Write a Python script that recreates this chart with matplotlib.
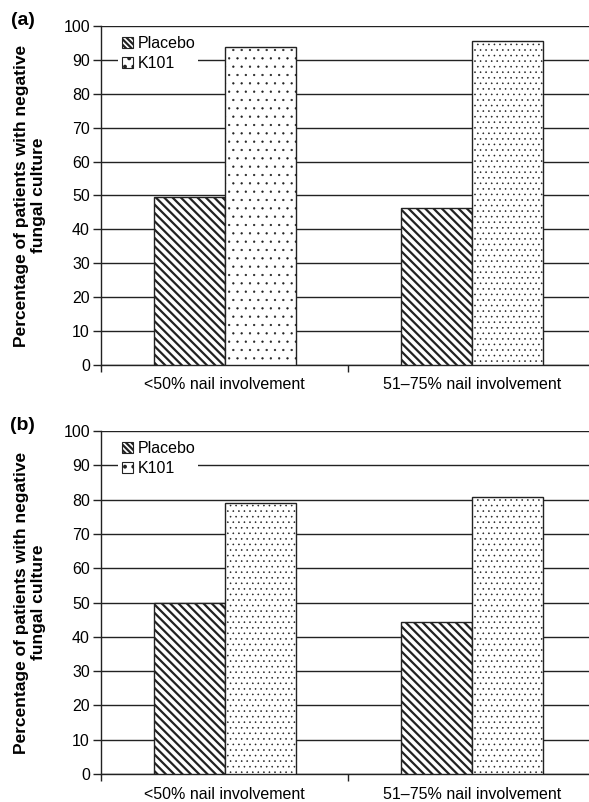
import numpy as np
import matplotlib
matplotlib.use('Agg')
import matplotlib.pyplot as plt
import matplotlib.patches as mpatches
from matplotlib.ticker import FixedLocator

plt.rcParams['font.family'] = ['Liberation Sans', 'DejaVu Sans']
plt.rcParams['hatch.linewidth'] = 1.6

categories = ['<50% nail involvement', '51\u201375% nail involvement']
series = ['Placebo', 'K101']
placebo_a = [49.5, 46.3]
k101_a = [93.7, 95.7]
placebo_b = [50.0, 44.2]
k101_b = [79.0, 80.8]
y_ticks = list(range(0, 101, 10))
panel_labels = ['(a)', '(b)']
ylabel = 'Percentage of patients with negative\nfungal culture'

STRIPES = '\\' * 4
EDGE = '#222222'


def thin_hatch(p, lw):
    if hasattr(p, 'set_hatch_linewidth'):
        p.set_hatch_linewidth(lw)


def panel(ax, placebo, k101, dot_hatches, tag, tag_y):
    x = np.arange(len(categories))
    w = 0.287
    ax.bar(x - w / 2, placebo, w, color='white', edgecolor=EDGE,
           hatch=STRIPES, linewidth=1.0, zorder=3)
    bars = ax.bar(x + w / 2, k101, w, color='white', edgecolor=EDGE,
                  linewidth=1.0, zorder=3)
    for b, h in zip(bars, dot_hatches):
        b.set_hatch(h)
        b.set_edgecolor(EDGE)
        thin_hatch(b, 0.4)

    ax.set_xlim(-0.5, 1.5)
    ax.set_ylim(0, 100)
    ax.set_yticks(y_ticks)
    ax.set_xticks(x)
    ax.set_xticklabels(categories, fontsize=11.5)
    ax.xaxis.set_minor_locator(FixedLocator([-0.5, 0.5, 1.5]))
    ax.tick_params(axis='x', which='major', length=0, pad=9)
    ax.tick_params(axis='x', which='minor', length=5, width=1, color=EDGE)
    ax.tick_params(axis='y', length=6, width=1, color=EDGE, labelsize=11.5, pad=2)
    ax.grid(axis='y', color=EDGE, linewidth=1.0, zorder=0)
    ax.set_axisbelow(True)
    for s in ['top', 'right']:
        ax.spines[s].set_visible(False)
    for s in ['left', 'bottom']:
        ax.spines[s].set_color(EDGE)
        ax.spines[s].set_linewidth(1.0)

    ax.set_ylabel(ylabel, fontsize=12.5, fontweight='bold', linespacing=1.1)
    ax.yaxis.set_label_coords(-0.112, 0.5)

    h1 = mpatches.Patch(facecolor='white', edgecolor=EDGE, hatch='\\' * 6, linewidth=0.8)
    h2 = mpatches.Patch(facecolor='white', edgecolor=EDGE, hatch='..', linewidth=0.8)
    thin_hatch(h2, 0.8)
    leg = ax.legend([h1, h2], series, loc='upper left', bbox_to_anchor=(0.035, 0.98),
                    fontsize=11.5, handlelength=0.7, handleheight=0.7, handletextpad=0.3,
                    labelspacing=0.3, borderpad=0.2, borderaxespad=0,
                    frameon=True, fancybox=False, edgecolor='none',
                    facecolor='white', framealpha=1)
    leg.set_zorder(5)
    ax.text(-0.158, tag_y, tag, transform=ax.transAxes, fontsize=14,
            fontweight='bold', ha='center', va='center')


fig = plt.figure(figsize=(5.89, 8.02), dpi=100)
ax1 = fig.add_axes([0.1715, 0.5449, 0.840, 0.4227])
ax2 = fig.add_axes([0.1715, 0.0349, 0.840, 0.4277])
panel(ax1, placebo_a, k101_a, ['..', '...'], panel_labels[0], 1.015)
panel(ax2, placebo_b, k101_b, ['...', '...'], panel_labels[1], 1.017)

fig.savefig('out.png', dpi=100)
